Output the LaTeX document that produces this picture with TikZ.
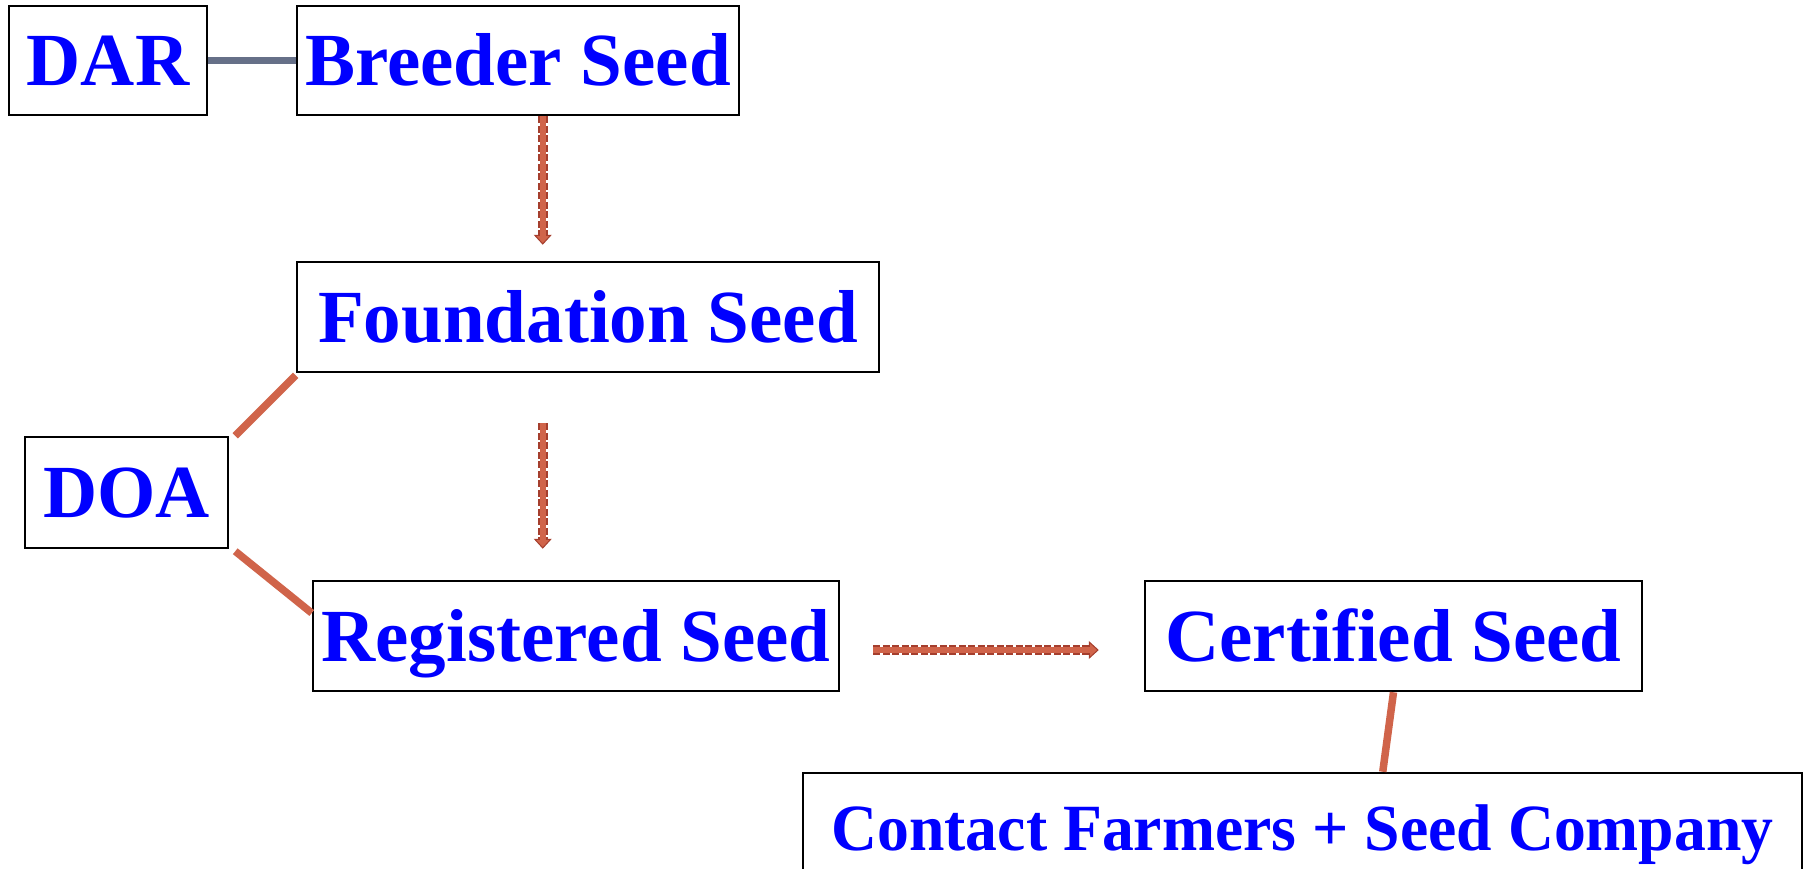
\documentclass[tikz,border=0pt]{standalone}
\usepackage{fontspec}
\setmainfont{Liberation Serif}
\newfontfamily\narrowserif[FakeStretch=0.965]{Liberation Serif}
\usetikzlibrary{arrows.meta,calc}
\definecolor{txtblue}{RGB}{0,0,255}
\definecolor{linkorange}{RGB}{208,100,74}
\definecolor{linkgray}{RGB}{102,112,136}
\definecolor{arrowdark}{RGB}{165,62,45}
\begin{document}
\begin{tikzpicture}[x=1pt,y=-1pt,
  box/.style={draw=black, line width=2.5pt, fill=white, inner sep=0pt,
    text=txtblue, font=\fontsize{75}{80}\selectfont\bfseries,
    text height=50pt, text depth=0pt},
  smallbox/.style={box, font=\fontsize{66}{70}\narrowserif\bfseries,
    text height=44pt},
  graylink/.style={draw=linkgray, line width=7.5pt},
  orangelink/.style={draw=linkorange, line width=7.5pt},
  flowouter/.style={draw=arrowdark, line width=10pt, dash pattern=on 7pt off 2.5pt,
    -{Triangle[length=10pt,width=18pt,line width=1pt,fill=linkorange]}},
  flowinner/.style={draw=linkorange, line width=5.5pt, shorten >=9pt}
]
\useasboundingbox (0,0) rectangle (1804,868);

\node[box, minimum width=198, minimum height=109] (dar) at (108,60.5) {DAR};
\node[box, minimum width=442, minimum height=109] (breeder) at (518,60.5) {Breeder Seed};
\node[box, minimum width=582, minimum height=110] (foundation) at (588,317) {Foundation Seed};
\node[box, minimum width=203, minimum height=111] (doa) at (126.5,492.5) {DOA};
\node[box, minimum width=526, minimum height=110] (registered) at (576,636) {Registered Seed};
\node[box, minimum width=497, minimum height=110] (certified) at (1393.5,636) {Certified Seed};
\node[smallbox, minimum width=999, minimum height=110] (contact) at (1302.5,828) {Contact Farmers + Seed Company};

% plain connectors
\draw[graylink] (dar.east) -- (breeder.west);
\coordinate (doaTop) at ($(doa.north east)+(6,0)$);
\coordinate (doaBot) at ($(doa.south east)+(6,2)$);
\coordinate (fndSW) at ($(foundation.south west)+(0,2)$);
\coordinate (regW) at ($(registered.west)+(0,-23)$);
\draw[orangelink] (doaTop) -- (fndSW);
\draw[orangelink] (doaBot) -- (regW);
\coordinate (certB) at ($(certified.south)+(0,0)$);
\coordinate (contT) at ($(contact.north west)+(581,0)$);
\draw[orangelink] (certB) -- (contT);

% flow arrows
\coordinate (a1s) at ($(breeder.south west)+(247,0)$);
\coordinate (a1e) at ($(foundation.north west)+(247,-16)$);
\coordinate (a2s) at ($(foundation.south west)+(247,50)$);
\coordinate (a2e) at ($(registered.north west)+(231,-31)$);
\coordinate (a3s) at ($(registered.east)+(33,14)$);
\coordinate (a3e) at ($(certified.west)+(-45,14)$);
\foreach \s/\e in {a1s/a1e, a2s/a2e, a3s/a3e}{
  \draw[flowouter] (\s) -- (\e);
  \draw[flowinner] (\s) -- (\e);
}
\end{tikzpicture}
\end{document}
